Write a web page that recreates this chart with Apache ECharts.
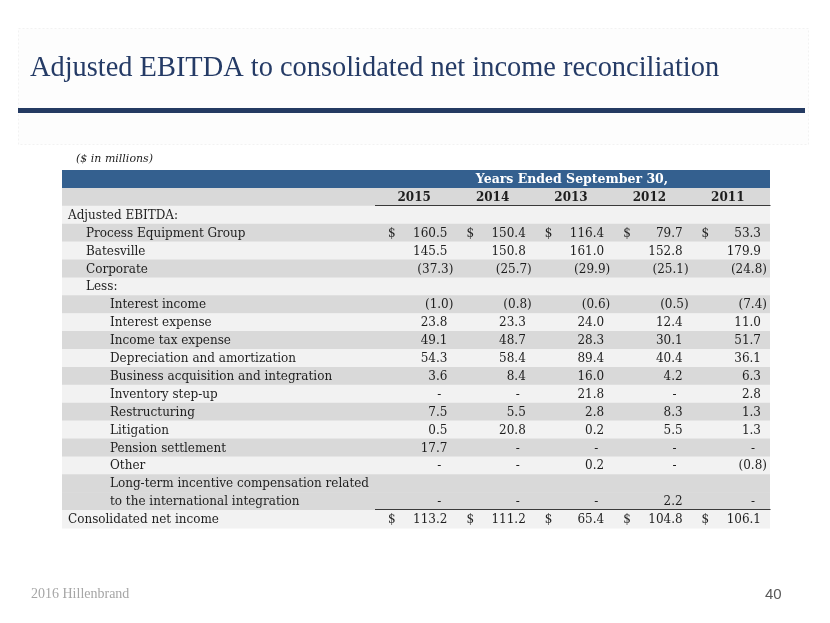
<!DOCTYPE html>
<html><head><meta charset="utf-8">
<script src="https://cdn.jsdelivr.net/npm/echarts@6/dist/echarts.min.js"></script>
<style>html,body{margin:0;padding:0;background:#fff}#c{width:830px;height:623px}</style>
</head><body><div id="c"></div>
<script>
const years = ['2015', '2014', '2013', '2012', '2011'];
const rowLabels = ['Adjusted EBITDA:', 'Process Equipment Group', 'Batesville', 'Corporate', 'Less:',
  'Interest income', 'Interest expense', 'Income tax expense', 'Depreciation and amortization',
  'Business acquisition and integration', 'Inventory step-up', 'Restructuring', 'Litigation',
  'Pension settlement', 'Other', 'Long-term incentive compensation related',
  'to the international integration', 'Consolidated net income'];
const rowIndent = [0, 1, 1, 1, 1, 2, 2, 2, 2, 2, 2, 2, 2, 2, 2, 2, 2, 0];
const rowShade = [0, 1, 0, 1, 0, 1, 0, 1, 0, 1, 0, 1, 0, 1, 0, 1, 1, 0];
// rows (index in rowLabels) that carry values, in order of the value arrays
const valueRows = [1, 2, 3, 5, 6, 7, 8, 9, 10, 11, 12, 13, 14, 16, 17];
const dollarRows = [1, 17];
const v2015 = [160.5, 145.5, -37.3, -1.0, 23.8, 49.1, 54.3, 3.6, null, 7.5, 0.5, 17.7, null, null, 113.2];
const v2014 = [150.4, 150.8, -25.7, -0.8, 23.3, 48.7, 58.4, 8.4, null, 5.5, 20.8, null, null, null, 111.2];
const v2013 = [116.4, 161.0, -29.9, -0.6, 24.0, 28.3, 89.4, 16.0, 21.8, 2.8, 0.2, null, 0.2, null, 65.4];
const v2012 = [79.7, 152.8, -25.1, -0.5, 12.4, 30.1, 40.4, 4.2, null, 8.3, 5.5, null, null, 2.2, 104.8];
const v2011 = [53.3, 179.9, -24.8, -7.4, 11.0, 51.7, 36.1, 6.3, 2.8, 1.3, 1.3, null, -0.8, null, 106.1];
const columns = [v2015, v2014, v2013, v2012, v2011];
const headerText = 'Years Ended September 30,';

const yCats = ['header', 'years'].concat(rowLabels);
const SERIF = '"DejaVu Serif", Georgia, serif';
const TXT = '#1e1e1e';

function fmt(v) {
  if (v === null) return '-';
  if (v < 0) return '(' + Math.abs(v).toFixed(1) + ')';
  return v.toFixed(1);
}

// cells: kind 0 header, 1 year, 2 value
const cellData = [], cellInfo = [];
cellData.push([2, 0]); cellInfo.push({ kind: 0, text: headerText });
years.forEach((y, c) => { cellData.push([c, 1]); cellInfo.push({ kind: 1, text: y }); });
columns.forEach((col, c) => {
  col.forEach((v, k) => {
    const r = valueRows[k];
    cellData.push([c, r + 2]);
    cellInfo.push({ kind: 2, text: fmt(v), v: v, dollar: dollarRows.indexOf(r) >= 0, lineAbove: r === 17 });
  });
});

function rowRender(params, api) {
  const i = api.value(1);
  const cs = params.coordSys;
  const h = api.size([0, 1])[1];
  const yc = api.coord([0, i])[1];
  let fill;
  if (i === 0) fill = '#34608f';
  else if (i === 1) fill = '#d9d9d9';
  else fill = rowShade[i - 2] ? '#d9d9d9' : '#f2f2f2';
  const children = [{ type: 'rect', shape: { x: cs.x, y: yc - h / 2, width: cs.width, height: h + 0.5 }, style: { fill: fill } }];
  if (i >= 2) {
    const lvl = rowIndent[i - 2];
    children.push({ type: 'text', style: { text: rowLabels[i - 2], x: cs.x + 6 + [0, 18, 42][lvl], y: yc + 1,
      align: 'left', verticalAlign: 'middle', font: '12px ' + SERIF, fill: TXT } });
  }
  return { type: 'group', children: children };
}

function cellRender(params, api) {
  const info = cellInfo[params.dataIndex];
  const c = api.value(0), r = api.value(1);
  const pt = api.coord([c, r]);
  const sz = api.size([1, 1]);
  const left = pt[0] - sz[0] / 2, right = pt[0] + sz[0] / 2;
  const yc = pt[1];
  const children = [];
  if (info.kind === 0) {
    children.push({ type: 'text', style: { text: info.text, x: pt[0] - 2, y: yc + 1, align: 'center', verticalAlign: 'middle',
      font: 'bold 12.5px ' + SERIF, fill: '#ffffff' } });
  } else if (info.kind === 1) {
    const ly = Math.round(yc + sz[1] / 2) - 0.5;
    children.push({ type: 'text', style: { text: info.text, x: pt[0] - 3, y: yc + 1, align: 'center', verticalAlign: 'middle',
      font: 'bold 12px ' + SERIF, fill: TXT } });
    children.push({ type: 'line', shape: { x1: left - 3, y1: ly, x2: right + 0.5, y2: ly },
      style: { stroke: '#3a3a3a', lineWidth: 1 } });
  } else {
    let x = right - 9;
    if (info.v === null) x = right - 15;
    else if (info.v < 0) x = right - 3;
    children.push({ type: 'text', style: { text: info.text, x: x, y: yc + 1, align: 'right', verticalAlign: 'middle',
      font: '12px ' + SERIF, fill: TXT } });
    if (info.dollar) {
      children.push({ type: 'text', style: { text: '$', x: left + 10, y: yc + 1, align: 'left', verticalAlign: 'middle',
        font: '12px ' + SERIF, fill: TXT } });
    }
    if (info.lineAbove) {
      const ly = Math.round(yc - sz[1] / 2) - 0.5;
      children.push({ type: 'line', shape: { x1: left - 3, y1: ly, x2: right + 0.5, y2: ly },
        style: { stroke: '#3a3a3a', lineWidth: 1 } });
    }
  }
  return { type: 'group', children: children };
}

const chart = echarts.init(document.getElementById('c'), null, { renderer: 'canvas' });
chart.setOption({
  animation: false,
  backgroundColor: '#ffffff',
  grid: [
    { left: 62, right: 60, top: 170, height: 358 },
    { left: 378, right: 60, top: 170, height: 358 }
  ],
  xAxis: [
    { type: 'value', min: 0, max: 1, show: false, gridIndex: 0 },
    { type: 'category', data: years, show: false, gridIndex: 1 }
  ],
  yAxis: [
    { type: 'category', data: yCats, inverse: true, show: false, gridIndex: 0 },
    { type: 'category', data: yCats, inverse: true, show: false, gridIndex: 1 }
  ],
  graphic: [
    { type: 'rect', left: 18, top: 28, shape: { width: 790, height: 116 }, style: { fill: '#fdfdfd', stroke: '#f2f2f2', lineWidth: 1, lineDash: [2, 2] }, z: -10 },
    { type: 'text', left: 30, top: 55, style: { text: 'Adjusted EBITDA to consolidated net income reconciliation',
      font: '28.4px "Liberation Serif", "Times New Roman", serif', fill: '#253b66' } },
    { type: 'rect', left: 18, top: 108, shape: { width: 787, height: 5 }, style: { fill: '#243a62' } },
    { type: 'text', left: 76, top: 154, style: { text: '($ in millions)', font: 'italic 11px ' + SERIF, fill: TXT } },
    { type: 'text', left: 31, top: 587, style: { text: '2016 Hillenbrand', font: '14px "Liberation Serif", serif', fill: '#a6a6a6' } },
    { type: 'text', left: 765, top: 587, style: { text: '40', font: '15px "Liberation Sans", Arial, sans-serif', fill: '#595959' } }
  ],
  series: [
    { type: 'custom', xAxisIndex: 0, yAxisIndex: 0, data: yCats.map((c, i) => [0, i]), renderItem: rowRender, silent: true },
    { type: 'custom', xAxisIndex: 1, yAxisIndex: 1, data: cellData, renderItem: cellRender, silent: true, z: 3 }
  ]
});
</script></body></html>
